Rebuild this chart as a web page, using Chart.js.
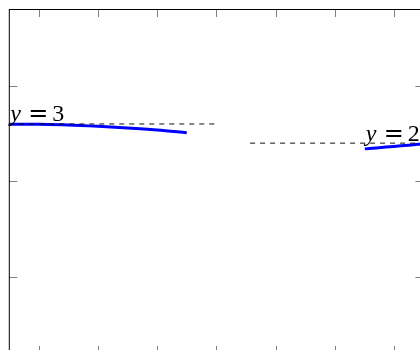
<!DOCTYPE html>
<html>
<head>
<meta charset="utf-8">
<script src="https://cdn.jsdelivr.net/npm/chart.js@4"></script>
<style>
    html, body { margin: 0; padding: 0; background: #fff; overflow: hidden; }
    #chartCanvas { display: block; }
</style>
</head>
<body>
<canvas id="chartCanvas" width="440" height="370" style="width:440px;height:370px"></canvas>
<script>
// axis ranges and ticks (labels are not shown in the picture)
const xRange = [-3.5, 3.5];
const yRange = [-9, 9];
const xTicks = [-3, -2, -1, 0, 1, 2, 3];
const yTicks = [-5, 0, 5];

// asymptote segments
const asym1X = [-3.5, 0];
const asym1Y = [3, 3];
const asym2X = [0.57, 3.5];
const asym2Y = [2, 2];

// the two branches of the curve
const curve1X = [-3.5, -3, -2.5, -2, -1.5, -1, -0.5];
const curve1Y = [2.99, 2.98, 2.95, 2.88, 2.79, 2.68, 2.54];
const curve2X = [2.51, 2.75, 3, 3.25, 3.5];
const curve2Y = [1.70, 1.76, 1.83, 1.89, 1.96];

// labels: y = <text> placed at (x, y)
const labelTexts = ['3', '2'];
const labelX = [-3.5, 2.51];
const labelY = [3, 2];

function toPoints(xs, ys) {
    return xs.map((x, i) => ({ x: x, y: ys[i] }));
}

document.addEventListener('DOMContentLoaded', function () {
    const ctx = document.getElementById('chartCanvas').getContext('2d');

    const framePlugin = {
        id: 'frame',
        afterDraw(chart) {
            const c = chart.ctx;
            const area = chart.chartArea;
            const xs = chart.scales.x;
            const ys = chart.scales.y;
            c.save();
            // inward ticks
            c.strokeStyle = 'rgba(0,0,0,0.5)';
            c.lineWidth = 1;
            c.beginPath();
            xTicks.forEach(t => {
                const px = Math.round(xs.getPixelForValue(t)) + 0.5;
                c.moveTo(px, area.top); c.lineTo(px, area.top + 8);
                c.moveTo(px, area.bottom); c.lineTo(px, area.bottom - 8);
            });
            yTicks.forEach(t => {
                const py = Math.round(ys.getPixelForValue(t)) + 0.5;
                c.moveTo(area.left, py); c.lineTo(area.left + 8, py);
                c.moveTo(area.right, py); c.lineTo(area.right - 8, py);
            });
            c.stroke();
            // frame
            c.strokeStyle = '#000';
            c.lineWidth = 1;
            c.strokeRect(area.left, Math.round(area.top) + 0.5, area.right - area.left, area.bottom - area.top);

            // labels y = 3, y = 2
            const size = 24;
            c.fillStyle = '#000';
            c.textBaseline = 'alphabetic';
            c.textAlign = 'left';
            labelTexts.forEach((txt, i) => {
                const x = xs.getPixelForValue(labelX[i]) + 1;
                const y = ys.getPixelForValue(labelY[i]) - (i === 0 ? 3 : 2);
                c.font = 'italic ' + size + 'px "Liberation Serif", serif';
                c.fillText('y', x, y);
                c.font = size + 'px "DejaVu Serif", serif';
                c.fillText('=', x + 18, y);
                c.font = size + 'px "Liberation Serif", serif';
                c.fillText(txt, x + 42, y);
            });
            c.restore();
        }
    };

    const dashed = {
        borderColor: '#111',
        borderWidth: 1,
        borderDash: [5, 5],
        pointRadius: 0,
        fill: false
    };
    const solid = {
        borderColor: '#0000ff',
        borderWidth: 3,
        pointRadius: 0,
        fill: false,
        cubicInterpolationMode: 'monotone'
    };

    new Chart(ctx, {
        type: 'line',
        data: {
            datasets: [
                Object.assign({ data: toPoints(asym1X, asym1Y) }, dashed),
                Object.assign({ data: toPoints(asym2X, asym2Y) }, dashed),
                Object.assign({ data: toPoints(curve1X, curve1Y) }, solid),
                Object.assign({ data: toPoints(curve2X, curve2Y) }, solid)
            ]
        },
        options: {
            responsive: false,
            animation: false,
            devicePixelRatio: 1,
            layout: { padding: { left: 9.3, top: 9, right: 16.6, bottom: 16.1 } },
            scales: {
                x: { type: 'linear', min: xRange[0], max: xRange[1], display: false },
                y: { type: 'linear', min: yRange[0], max: yRange[1], display: false }
            },
            plugins: {
                legend: { display: false },
                tooltip: { enabled: false }
            }
        },
        plugins: [framePlugin]
    });
});
</script>
</body>
</html>
